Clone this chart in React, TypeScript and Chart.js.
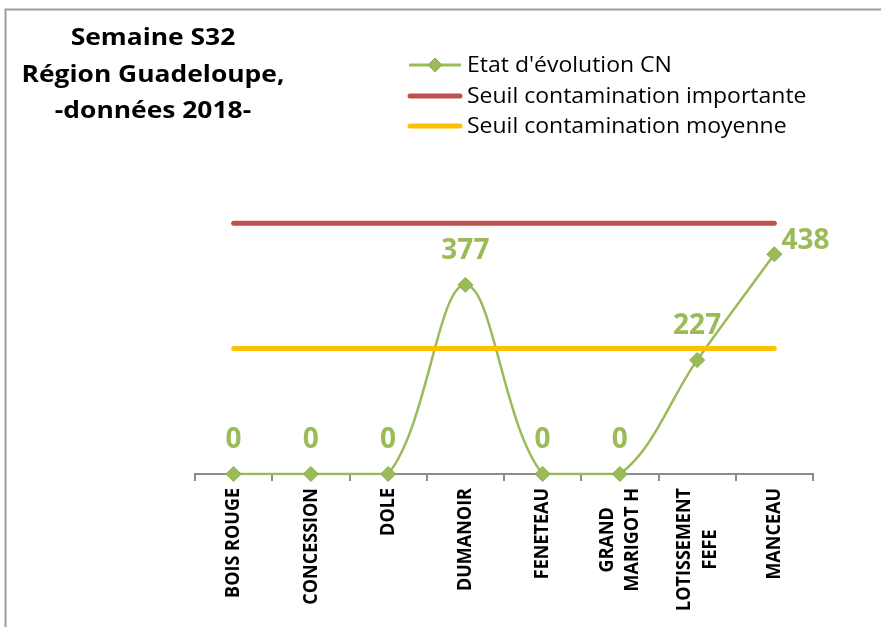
import React, { useEffect, useRef } from 'react';
import { Chart, registerables } from 'chart.js';

Chart.register(...registerables);

const categories: string[][] = [
  ['BOIS ROUGE'],
  ['CONCESSION'],
  ['DOLE'],
  ['DUMANOIR'],
  ['FENETEAU'],
  ['GRAND', 'MARIGOT H'],
  ['LOTISSEMENT', 'FEFE'],
  ['MANCEAU'],
];
const evolutionValues = [0, 0, 0, 377, 0, 0, 227, 438];
const seuilImportantValues = [500, 500, 500, 500, 500, 500, 500, 500];
const seuilMoyenValues = [250, 250, 250, 250, 250, 250, 250, 250];
const titleLines = ['Semaine S32', 'Région Guadeloupe,', '-données 2018-'];
const legendLabels = [
  "Etat d'évolution CN",
  'Seuil contamination importante',
  'Seuil contamination moyenne',
];
const yMin = 0;
const yMax = 600;

const GREEN = '#9BBB59';
const GREEN_DARK = '#8AAE48';
const RED = '#C0504D';
const YELLOW = '#FFC000';
const AXIS = '#8C8C8C';
const SX = 1.1;
const FONT = '"Open Sans", "Liberation Sans", sans-serif';

function drawText(
  ctx: CanvasRenderingContext2D,
  text: string,
  x: number,
  y: number,
  font: string,
  color: string,
  align: CanvasTextAlign,
  sx: number
) {
  ctx.save();
  ctx.translate(x, y);
  ctx.scale(sx, 1);
  ctx.font = font;
  ctx.fillStyle = color;
  ctx.textAlign = align;
  ctx.textBaseline = 'alphabetic';
  ctx.fillText(text, 0, 0);
  ctx.restore();
}

function drawDiamond(ctx: CanvasRenderingContext2D, x: number, y: number, r: number) {
  ctx.save();
  ctx.beginPath();
  ctx.moveTo(x, y - r);
  ctx.lineTo(x + r, y);
  ctx.lineTo(x, y + r);
  ctx.lineTo(x - r, y);
  ctx.closePath();
  ctx.fillStyle = GREEN;
  ctx.fill();
  ctx.lineWidth = 1;
  ctx.strokeStyle = GREEN_DARK;
  ctx.stroke();
  ctx.restore();
}

const decorPlugin = {
  id: 'decor',
  beforeDraw(chart: any) {
    const ctx: CanvasRenderingContext2D = chart.ctx;
    ctx.save();
    ctx.fillStyle = '#ffffff';
    ctx.fillRect(0, 0, chart.width, chart.height);
    ctx.strokeStyle = '#9C9C9C';
    ctx.lineWidth = 2;
    ctx.beginPath();
    ctx.moveTo(5.5, chart.height + 5);
    ctx.lineTo(5.5, 9.5);
    ctx.lineTo(chart.width + 5, 9.5);
    ctx.stroke();
    ctx.restore();
  },
  afterDraw(chart: any) {
    const ctx: CanvasRenderingContext2D = chart.ctx;
    // Title
    const titleFont = `bold 24px ${FONT}`;
    const titleBaselines = [45, 82, 118];
    titleLines.forEach((t, i) => drawText(ctx, t, 153, titleBaselines[i], titleFont, '#000', 'center', SX));

    // Legend
    const legendFont = `22px ${FONT}`;
    const rows = [65, 96, 126];
    const colors = [GREEN, RED, YELLOW];
    rows.forEach((ry, i) => {
      ctx.save();
      ctx.strokeStyle = colors[i];
      ctx.lineCap = i === 0 ? 'butt' : 'round';
      ctx.lineWidth = i === 0 ? 3 : 5;
      ctx.beginPath();
      ctx.moveTo(i === 0 ? 409 : 410, ry);
      ctx.lineTo(i === 0 ? 461 : 460, ry);
      ctx.stroke();
      ctx.restore();
      if (i === 0) drawDiamond(ctx, 435, ry, 7);
      drawText(ctx, legendLabels[i], 467, ry + 7, legendFont, '#000', 'left', 1.045);
    });

    // Category labels
    const xScale = chart.scales.x;
    const labelFont = `bold 18px ${FONT}`;
    const top = chart.chartArea.bottom + 14;
    const lh = 23.5;
    ctx.save();
    ctx.font = labelFont;
    categories.forEach((lines, idx) => {
      const cx = xScale.getPixelForValue(idx);
      ctx.font = labelFont;
      const w = Math.max(...lines.map((l) => ctx.measureText(l).width));
      lines.forEach((line, li) => {
        ctx.save();
        ctx.translate(cx, top + w / 2);
        ctx.scale(SX, 1);
        ctx.rotate(-Math.PI / 2);
        ctx.font = labelFont;
        ctx.fillStyle = '#000';
        ctx.textAlign = 'center';
        ctx.textBaseline = 'middle';
        ctx.fillText(line, 0, (li - (lines.length - 1) / 2) * lh);
        ctx.restore();
      });
    });
    ctx.restore();

    // Data labels
    const meta = chart.getDatasetMeta(0);
    const dlFont = `bold 28px ${FONT}`;
    meta.data.forEach((pt: any, i: number) => {
      const txt = String(evolutionValues[i]);
      if (i === evolutionValues.length - 1) {
        drawText(ctx, txt, pt.x + 7, pt.y - 5, dlFont, GREEN, 'left', 1);
      } else {
        drawText(ctx, txt, pt.x, pt.y - 26, dlFont, GREEN, 'center', 1);
      }
    });
  },
};

export default function App() {
  const ref = useRef<HTMLCanvasElement | null>(null);
  useEffect(() => {
    if (!ref.current) return;
    const chart = new Chart(ref.current, {
      type: 'line',
      data: {
        labels: categories,
        datasets: [
          {
            label: legendLabels[0],
            data: evolutionValues,
            borderColor: GREEN,
            borderWidth: 2.5,
            tension: 0.35,
            pointRadius: 0,
            fill: false,
            order: 3,
            clip: { left: 20, right: 20, top: 20, bottom: 1.5 } as any,
          },
          {
            label: 'points',
            data: evolutionValues,
            showLine: false,
            pointStyle: 'rectRot',
            pointRadius: 7.5,
            pointBackgroundColor: GREEN,
            pointBorderColor: GREEN_DARK,
            pointBorderWidth: 1,
            order: 0,
            clip: false as any,
          },
          {
            label: legendLabels[1],
            data: seuilImportantValues,
            borderColor: RED,
            borderWidth: 5,
            borderCapStyle: 'round',
            pointRadius: 0,
            order: 1,
            clip: false as any,
          },
          {
            label: legendLabels[2],
            data: seuilMoyenValues,
            borderColor: YELLOW,
            borderWidth: 5,
            borderCapStyle: 'round',
            pointRadius: 0,
            order: 2,
            clip: false as any,
          },
        ],
      },
      options: {
        responsive: false,
        animation: false,
        devicePixelRatio: 1,
        events: [],
        layout: { padding: { left: 195, right: 68, top: 173, bottom: 0 } },
        plugins: {
          legend: { display: false },
          title: { display: false },
          tooltip: { enabled: false },
        },
        scales: {
          x: {
            type: 'category',
            offset: true,
            grid: {
              offset: true,
              drawOnChartArea: false,
              drawTicks: true,
              tickLength: 7,
              color: AXIS,
              lineWidth: 2,
            },
            border: { display: true, color: AXIS, width: 2 },
            ticks: { display: false },
            afterFit: (s: any) => {
              s.height = 153;
            },
          },
          y: {
            display: false,
            min: yMin,
            max: yMax,
          },
        },
      },
      plugins: [decorPlugin],
    });
    return () => chart.destroy();
  }, []);
  return (
    <div style={{ position: 'fixed', left: 0, top: 0, width: 881, height: 627 }}>
      <canvas ref={ref} width={881} height={627} style={{ width: 881, height: 627, display: 'block' }} />
    </div>
  );
}
